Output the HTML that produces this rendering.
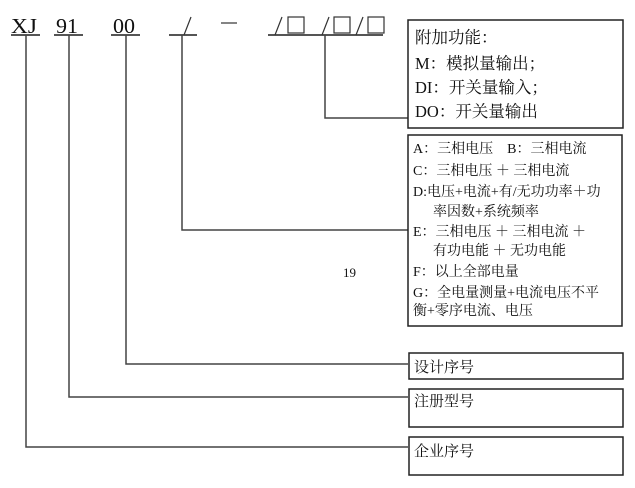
<!DOCTYPE html>
<html><head><meta charset="utf-8"><style>
body{margin:0;background:#fff;}
svg text{font-family:"Liberation Serif","Noto Serif CJK SC",serif;fill:#111;}
</style></head><body>
<svg width="635" height="483" viewBox="0 0 635 483">
<g font-size="21">
<text x="11" y="33" textLength="26" lengthAdjust="spacingAndGlyphs">XJ</text><text x="56" y="33" textLength="22" lengthAdjust="spacingAndGlyphs">91</text><text x="113" y="33" textLength="22" lengthAdjust="spacingAndGlyphs">00</text>
</g>
<g stroke="#555" stroke-width="2" fill="none">
<line x1="11" y1="35" x2="40" y2="35"/><line x1="54" y1="35" x2="83" y2="35"/>
<line x1="111" y1="35" x2="140" y2="35"/><line x1="169" y1="35" x2="197" y2="35"/>
<line x1="268" y1="35" x2="383" y2="35"/>
</g>
<g stroke="#333" stroke-width="1.2" fill="none">
<line x1="184" y1="35" x2="191" y2="17"/>
<line x1="221" y1="23" x2="237" y2="23"/>
<line x1="275" y1="35" x2="282" y2="17"/><rect x="288" y="17" width="16" height="16"/>
<line x1="322" y1="35" x2="329" y2="17"/><rect x="334" y="17" width="16" height="16"/>
<line x1="356" y1="35" x2="363" y2="17"/><rect x="368" y="17" width="16" height="16"/>
</g>
<g stroke="#444" stroke-width="1.5" fill="none">
<polyline points="26,35 26,447 408,447"/>
<polyline points="69,35 69,397 408,397"/>
<polyline points="126,35 126,364 408,364"/>
<polyline points="182,35 182,230 408,230"/>
<polyline points="325,35 325,118 408,118"/>
</g>
<g stroke="#222" stroke-width="1.5" fill="none">
<rect x="408" y="20" width="215" height="108"/>
<rect x="408" y="135" width="214" height="191"/>
<rect x="409" y="353" width="214" height="26"/>
<rect x="409" y="389" width="214" height="38"/>
<rect x="409" y="437" width="214" height="38"/>
</g>
<g font-size="16.5">
<text x="415" y="43">附加功能：</text>
<text x="415" y="69">M：模拟量输出；</text>
<text x="415" y="93">DI：开关量输入；</text>
<text x="415" y="117">DO：开关量输出</text>
</g>
<g font-size="14">
<text x="413" y="153">A：三相电压　B：三相电流</text>
<text x="413" y="175">C：三相电压 ＋ 三相电流</text>
<text x="413" y="196">D:电压+电流+有/无功功率＋功</text>
<text x="433" y="216">率因数+系统频率</text>
<text x="413" y="236">E：三相电压 ＋ 三相电流 ＋</text>
<text x="433" y="255">有功电能 ＋ 无功电能</text>
<text x="413" y="276">F：以上全部电量</text>
<text x="413" y="297">G：全电量测量+电流电压不平</text>
<text x="413" y="315">衡+零序电流、电压</text>
</g>
<text x="343" y="277" font-size="13">19</text>
<g font-size="15">
<text x="414" y="372">设计序号</text>
<text x="414" y="406">注册型号</text>
<text x="414" y="456">企业序号</text>
</g>
</svg>
</body></html>
